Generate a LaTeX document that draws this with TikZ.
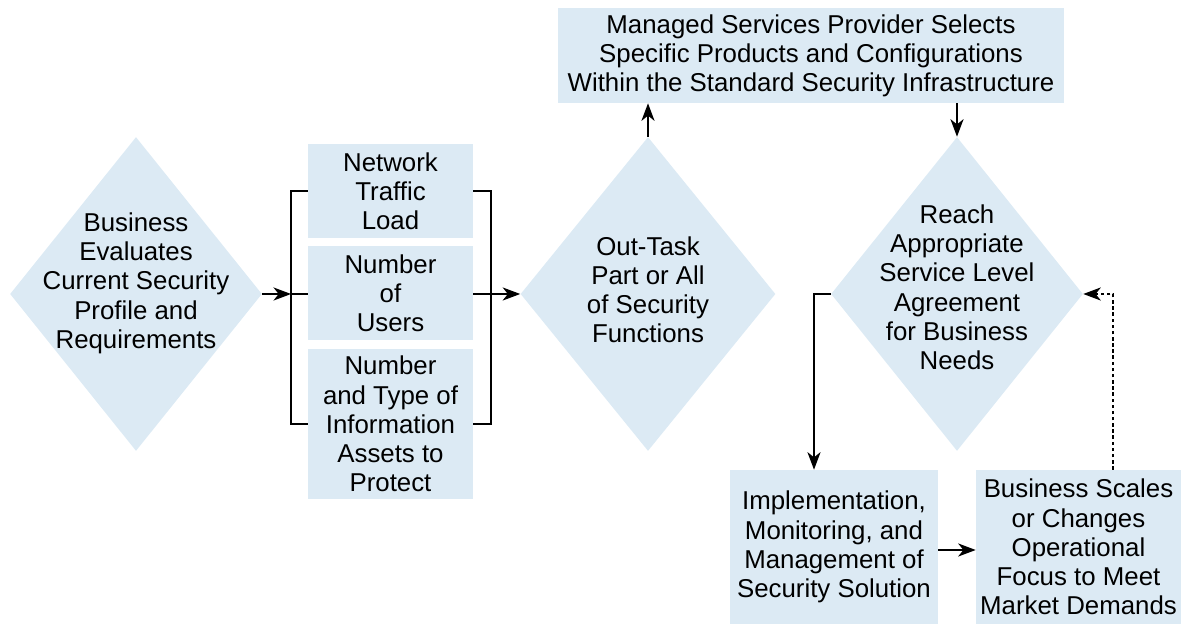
\documentclass[tikz,border=0pt]{standalone}
\usepackage{fontspec}
\setmainfont{Liberation Sans}
\usetikzlibrary{shapes.geometric,arrows.meta}
\definecolor{paleblue}{RGB}{220,234,244}
\tikzstyle{decision} = [diamond, fill=paleblue, inner sep=0pt,
    minimum width=5.04cm, minimum height=6.28cm]
\tikzstyle{factor} = [rectangle, fill=paleblue, inner sep=0pt, align=center,
    minimum width=3.3cm]
\tikzstyle{stepbox} = [rectangle, fill=paleblue, inner sep=0pt, align=center,
    minimum height=3.08cm]
\tikzstyle{link} = [line width=0.7pt, -{Stealth[length=10pt,width=7.5pt,inset=3pt]}]
\tikzstyle{wire} = [line width=0.7pt]
\newcommand{\dtext}[2][0pt]{\raisebox{#1}{\smash{\makebox[0pt]{\begin{tabular}{@{}c@{}}#2\end{tabular}}}}}

\begin{document}
\begin{tikzpicture}[x=0.02cm, y=-0.02cm,
    every node/.style={font=\fontsize{14.7}{16.6}\selectfont}]
    \useasboundingbox (0,0) rectangle (1181,624);

    % decisions
    \node[decision] (biz) at (136,294) {\dtext[4pt]{Business\\Evaluates\\Current Security\\Profile and\\Requirements}};
    \node[decision, minimum width=5.1cm] (outtask) at (648,294) {\dtext[-6pt]{Out-Task\\Part or All\\of Security\\Functions}};
    \node[decision] (reach) at (957,294) {\dtext[-3.5pt]{Reach\\Appropriate\\Service Level\\Agreement\\for Business\\Needs}};

    % factors
    \node[factor, minimum height=1.88cm] (load) at (390.5,191) {Network\\Traffic\\Load};
    \node[factor, minimum height=1.9cm] (users) at (390.5,293) {Number\\of\\Users};
    \node[factor, minimum height=3.02cm] (assets) at (390.5,424) {Number\\and Type of\\Information\\Assets to\\Protect};

    % steps
    \node[stepbox, minimum width=10.12cm, minimum height=1.9cm] (msp) at (811,55.5)
        {Managed Services Provider Selects\\Specific Products and Configurations\\Within the Standard Security Infrastructure};
    \node[stepbox, minimum width=4.16cm] (impl) at (834,547)
        {Implementation,\\Monitoring, and\\Management of\\Security Solution};
    \node[stepbox, minimum width=4.1cm] (scale) at (1078.5,547)
        {Business Scales\\or Changes\\Operational\\Focus to Meet\\Market Demands};

    \coordinate (lb) at (291,294);
    \coordinate (rb) at (491,294);
    \coordinate (rturn) at (814,294);
    \coordinate (sback) at (1113,294);

    % brackets
    \draw[wire] (load.west) -| (lb) |- (assets.west);
    \draw[wire] (load.east) -| (rb) |- (assets.east);
    \draw[wire] (lb) -- (users.west |- lb);

    % connectors
    \draw[link] (biz.east) -- (lb);
    \draw[link] (users.east |- rb) -- (outtask.west);
    \draw[link] (outtask.north) -- (outtask.north |- msp.south);
    \draw[link] (msp.south -| reach.north) -- (reach.north);
    \draw[link] (reach.west) -- (rturn) -- (rturn |- impl.north);
    \draw[link] (impl.east |- 0,550) -- (scale.west |- 0,550);
    \draw[link, line width=0.6pt, dash pattern=on 2pt off 1.5pt] (scale.north -| sback) -- (sback) -- (reach.east);
\end{tikzpicture}
\end{document}
